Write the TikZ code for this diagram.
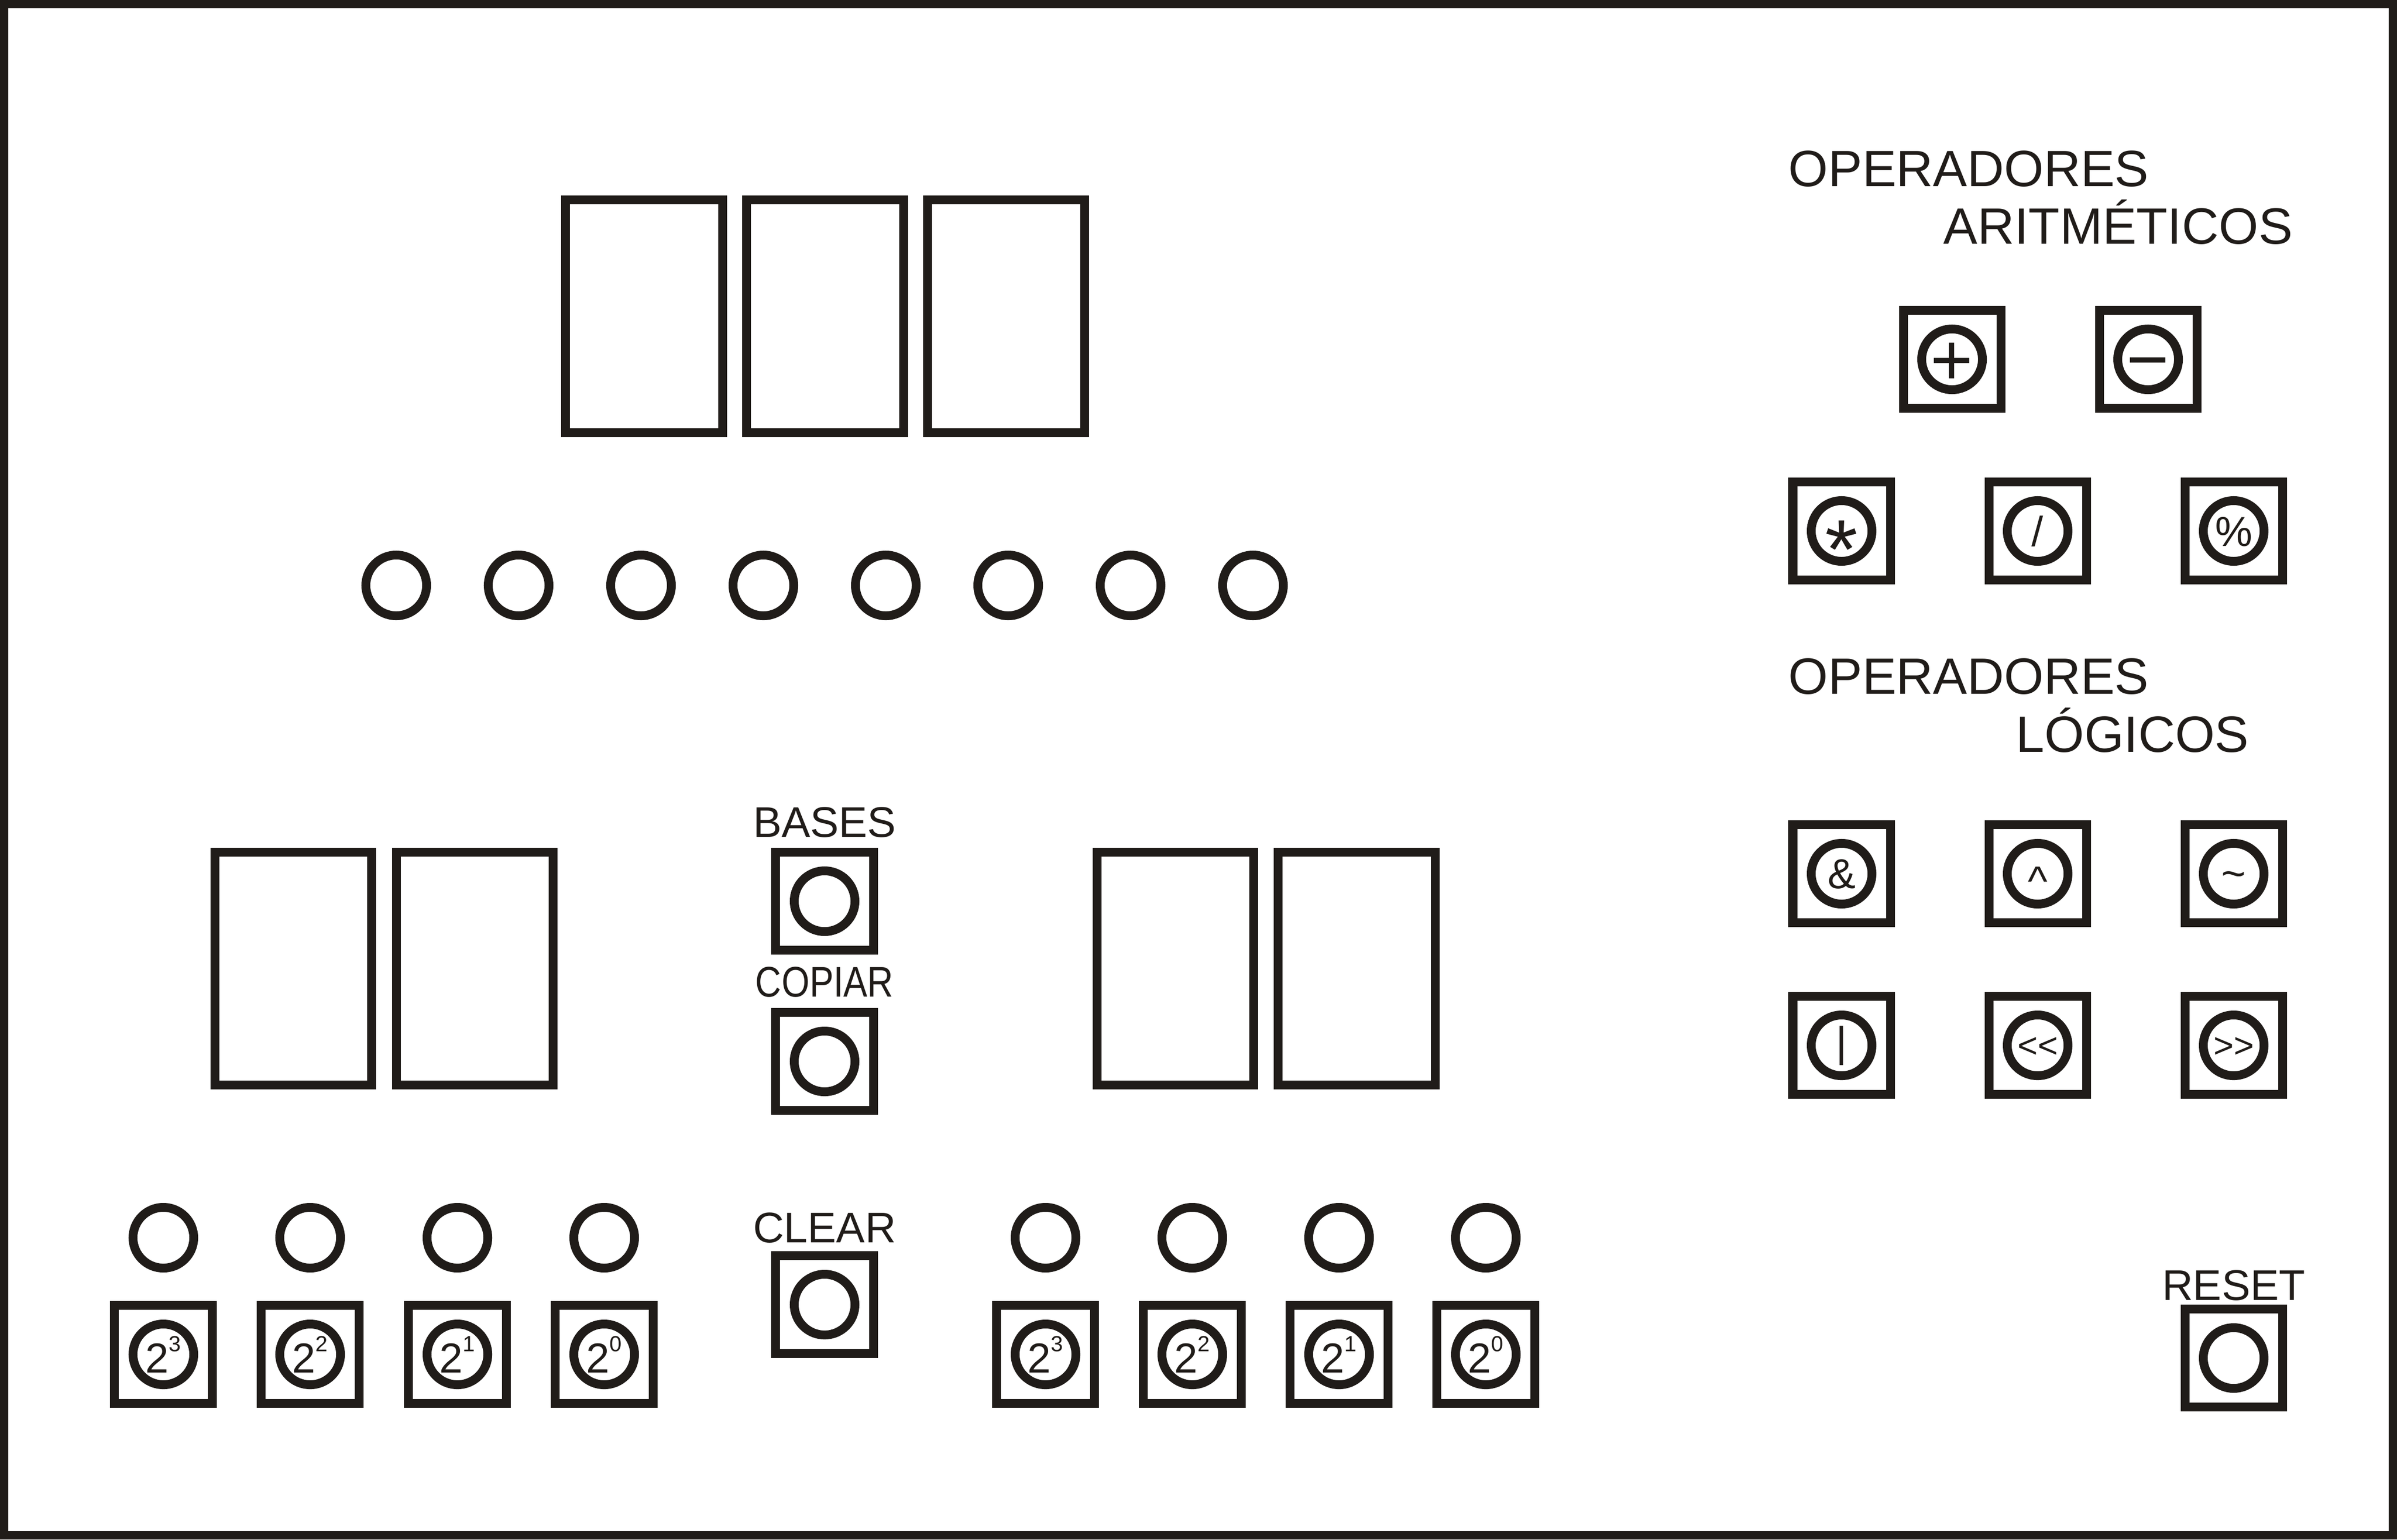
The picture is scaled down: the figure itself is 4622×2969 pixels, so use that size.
\documentclass[tikz,border=0pt]{standalone}
\usepackage{fontspec}
\setmainfont{Liberation Sans}
\usepackage{graphicx}
\usetikzlibrary{positioning}
\definecolor{ink}{RGB}{32,28,25}

\begin{document}
\begin{tikzpicture}[
    x=0.01cm, y=-0.01cm,
    panelframe/.style={draw=ink, line width=0.16cm},
    display/.style={rectangle, draw=ink, line width=0.17cm, minimum width=3.02cm, minimum height=4.48cm, inner sep=0pt},
    led/.style={circle, draw=ink, line width=0.17cm, minimum size=1.17cm, inner sep=0pt},
    keybox/.style={rectangle, draw=ink, line width=0.17cm, minimum size=1.88cm, inner sep=0pt, outer sep=0.085cm},
    keylabel/.style={font=\fontsize{23.5}{23.5}\selectfont, text=ink, inner sep=0pt, outer sep=0pt},
    heading/.style={font=\fontsize{28}{28}\selectfont, text=ink, anchor=base west, inner sep=0pt},
    sym/.style={text=ink, anchor=base, inner sep=0pt}
]
\useasboundingbox (0,0) rectangle (4622,2969);

% Panel
\draw[panelframe] (8,8) rectangle (4614,2961);

% Result display and bit LEDs
\foreach \x [count=\i] in {1242,1591,1940}
    \node[display] (res-\i) at (\x,610) {};
\foreach \i in {0,...,7}
    \node[led] (bit-\i) at (764+236*\i,1129) {};

% Operand displays
\node[display] (opa-1) at (565.5,1868) {};
\node[display] (opa-2) at (915.5,1868) {};
\node[display] (opb-1) at (2266.5,1868) {};
\node[display] (opb-2) at (2616,1868) {};

% Operand inputs (2^3 ... 2^0)
\foreach \x [count=\k] in {315,598,882,1165} {
    \pgfmathtruncatemacro\e{4-\k}
    \node[led] (ina-\k) at (\x,2387) {};
    \node[keybox] (keya-\k) at (\x,2612) {};
    \node[led] (ringa-\k) at (keya-\k.center) {};
    \node[sym, font=\fontsize{23}{23}\selectfont, yshift=-10.1pt] (expa-\k) at (keya-\k.center)
        {2\raisebox{11.7pt}{\fontsize{12}{12}\selectfont\e}};
}
\foreach \x [count=\k] in {2016,2299,2582,2865} {
    \pgfmathtruncatemacro\e{4-\k}
    \node[led] (inb-\k) at (\x,2387) {};
    \node[keybox] (keyb-\k) at (\x,2612) {};
    \node[led] (ringb-\k) at (keyb-\k.center) {};
    \node[sym, font=\fontsize{23}{23}\selectfont, yshift=-10.1pt] (expb-\k) at (keyb-\k.center)
        {2\raisebox{11.7pt}{\fontsize{12}{12}\selectfont\e}};
}

% Control keys
\node[keybox] (bases) at (1590,1738) {};
\node[led] (bases-ring) at (bases.center) {};
\node[keylabel, above=0.2cm of bases] (bases-lbl) {BASES};

\node[keybox] (copiar) at (1590,2047) {};
\node[led] (copiar-ring) at (copiar.center) {};
\node[keylabel, above=0.21cm of copiar] (copiar-lbl) {\scalebox{0.84}[1]{COPIAR}};

\node[keybox] (clear) at (1590,2516) {};
\node[led] (clear-ring) at (clear.center) {};
\node[keylabel, above=0.16cm of clear] (clear-lbl) {CLEAR};

\node[keybox] (reset) at (4307,2619) {};
\node[led] (reset-ring) at (reset.center) {};
\node[keylabel, above=0.08cm of reset] (reset-lbl) {RESET};

% Operator groups
\node[heading] (arit-1) at (3448,359) {OPERADORES};
\node[heading] (arit-2) at (3747,470) {ARITMÉTICOS};
\node[heading] (log-1) at (3448,1338) {OPERADORES};
\node[heading] (log-2) at (3887,1450) {LÓGICOS};

\foreach \nm/\cx/\cy/\sz/\dy/\sym in {
    add/3764/693/40/14.1/+,
    sub/4142/693/40/13.8/−,
    mul/3551/1024/46/26.1/*,
    div/3929/1024/23/8.3/\slash,
    mod/4307/1024/23/8.3/\%,
    and/3551/1685/23/8.2/\&,
    xor/3929/1685/23/12/\textasciicircum,
    not/4307/1685/23/7.9/\textasciitilde,
    or/3551/2016/23/6/|,
    shl/3929/2016/19/6.6/<\kern0pt<,
    shr/4307/2016/19/6.6/>\kern0pt>} {
    \node[keybox] (op-\nm) at (\cx,\cy) {};
    \node[led] (op-\nm-ring) at (op-\nm.center) {};
    \node[sym, font=\fontsize{\sz}{\sz}\selectfont, yshift=-\dy pt] (op-\nm-sym) at (op-\nm.center) {\sym};
}

\end{tikzpicture}
\end{document}
